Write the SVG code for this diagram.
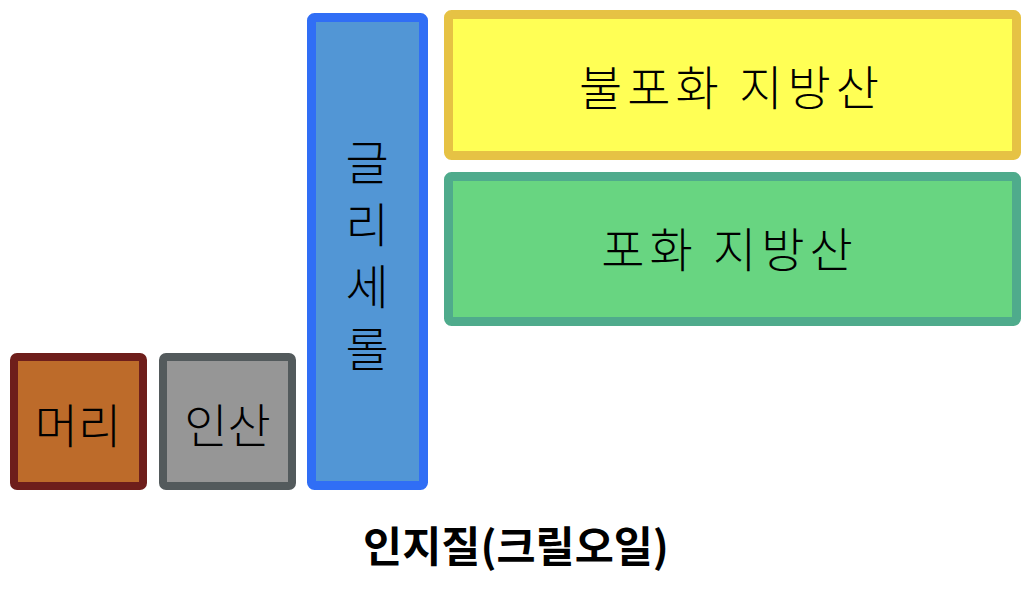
<svg xmlns="http://www.w3.org/2000/svg" width="1033" height="594" viewBox="0 0 1033 594">
<style>
.lbl{font-family:"Noto Sans CJK KR","Noto Sans CJK SC",sans-serif;font-weight:300;fill:#000;text-anchor:middle;dominant-baseline:central}
.big{font-size:47px}
.wide{letter-spacing:5px}
.title{font-family:"Noto Sans CJK KR","Noto Sans CJK SC",sans-serif;font-weight:700;font-size:42.5px;fill:#000;text-anchor:middle;dominant-baseline:central}
</style>
<rect width="1033" height="594" fill="#ffffff"/>
<g id="node-head">
<rect x="14" y="357" width="129" height="129" rx="3" fill="#BD6B2A" stroke="#6E1E1B" stroke-width="8"/>
<text class="lbl big" x="78" y="422">머리</text>
</g>
<g id="node-phosphate">
<rect x="163" y="357" width="129" height="129" rx="3" fill="#969696" stroke="#535A5C" stroke-width="8"/>
<text class="lbl big" x="227.5" y="422">인산</text>
</g>
<g id="node-glycerol">
<rect x="311.5" y="17.5" width="112" height="468" rx="3" fill="#5296D5" stroke="#306EF5" stroke-width="9"/>
<text class="lbl big" x="367" y="159"><tspan x="367" y="159">글</tspan><tspan x="367" y="221">리</tspan><tspan x="367" y="283">세</tspan><tspan x="367" y="345">롤</tspan></text>
</g>
<g id="node-unsaturated">
<rect x="448.5" y="14.5" width="568" height="141" rx="3" fill="#FFFF55" stroke="#E6C244" stroke-width="9"/>
<text class="lbl big wide" x="731.5" y="84">불포화 지방산</text>
</g>
<g id="node-saturated">
<rect x="448.5" y="176.5" width="568" height="145" rx="3" fill="#68D581" stroke="#4FAB8C" stroke-width="9"/>
<text class="lbl big wide" x="729.5" y="246">포화 지방산</text>
</g>
<g id="connectors"></g>
<g id="caption">
<text class="title" x="516" y="543">인지질(크릴오일)</text>
</g>
</svg>
